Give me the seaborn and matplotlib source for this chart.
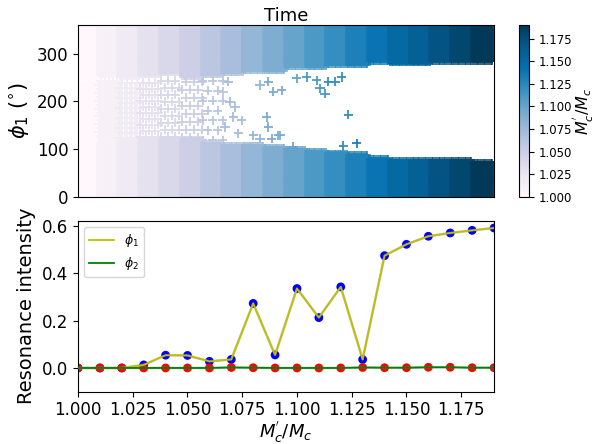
import numpy as np
import pandas as pd
import matplotlib
matplotlib.use('Agg')
from matplotlib import pyplot as plt
import seaborn as sns

# mass ratio M_c'/M_c for each run
ratio = [1.00, 1.01, 1.02, 1.03, 1.04, 1.05, 1.06, 1.07, 1.08, 1.09,
         1.10, 1.11, 1.12, 1.13, 1.14, 1.15, 1.16, 1.17, 1.18, 1.19]

# resonance intensity
phi1_res = [0.0, 0.0, 0.0, 0.013, 0.054, 0.053, 0.028, 0.036, 0.273, 0.055,
            0.336, 0.213, 0.343, 0.036, 0.475, 0.523, 0.557, 0.571, 0.582, 0.592]
phi2_res = [0.0, 0.0, 0.0, 0.0, 0.0, 0.0, 0.0, 0.002, 0.001, 0.0,
            0.0, 0.0, 0.0, 0.002, 0.001, 0.001, 0.003, 0.003, 0.001, 0.001]

# phi_1 libration: empty band between gap_low and gap_high (deg) for each run
gap_high = [245, 250, 248, 250, 255, 248, 250, 255, 258, 260,
            265, 265, 269, 272, 278, 276, 276, 279, 280, 280]
gap_low = [120, 118, 123, 126, 126, 124, 118, 112, 112, 108,
           105, 102, 96, 92, 84, 80, 80, 80, 80, 77]
# how sparse the points inside the gap are (0 = empty)
gap_sparse = [3, 4, 5, 6, 7, 8, 10, 0, 0, 0,
              0, 0, 0, 0, 0, 0, 0, 0, 0, 0]

# single points that land inside the gap (time in run units, phi in deg)
stray_t = [7.23, 6.99, 7.31, 7.55, 7.47, 7.87, 7.07, 7.71, 8.43, 8.75,
           9.31, 9.63, 9.15, 9.07, 9.39, 9.79, 8.75, 9.15, 10.51, 11.0,
           11.48, 11.63, 11.87, 12.03, 12.36, 12.68, 12.99, 12.75, 13.40, 10.35,
           9.71]
stray_phi = [241, 220, 199, 188, 167, 160, 146, 133, 129, 122,
             122, 129, 146, 167, 220, 223, 234, 241, 248, 251,
             244, 227, 216, 241, 241, 251, 172, 106, 112, 105,
             129]


def build_time_series():
    # solid part of each run
    t_all = []
    p_all = []
    r_all = []
    # scattered part inside the gap
    gt = []
    gp = []
    gr = []
    for i, r in enumerate(ratio):
        cols = i + np.arange(0, 1, 1 / 12.)
        rows = np.arange(0, 361, 4)
        keep = rows[(rows <= gap_low[i] - 4) | (rows >= gap_high[i] + 4)]
        tt, pp = np.meshgrid(cols, keep)
        t_all += list(tt.ravel())
        p_all += list(pp.ravel())
        r_all += [r] * tt.size
        if gap_sparse[i]:
            step_t = gap_sparse[i] / 20.8
            step_p = gap_sparse[i] * 2.09
            gap_rows = np.arange(gap_low[i], gap_high[i], step_p)
            for k, p in enumerate(gap_rows):
                off = 0.5 * step_t * (k % 2)
                for t in np.arange(i + off, i + 1, step_t):
                    gt.append(t)
                    gp.append(p)
                    gr.append(r)
    for t, p in zip(stray_t, stray_phi):
        gt.append(t)
        gp.append(p)
        gr.append(ratio[int(t)])
    solid = pd.DataFrame({'t': t_all, 'phi': p_all, 'ratio': r_all})
    loose = pd.DataFrame({'t': gt, 'phi': gp, 'ratio': gr})
    return solid, loose


def main():
    solid, loose = build_time_series()
    norm = plt.Normalize(1.0, 1.19)

    fig = plt.figure(figsize=(5.96, 4.44), dpi=100)
    ax1 = fig.add_axes([0.1309, 0.557, 0.698, 0.3867])
    ax2 = fig.add_axes([0.1309, 0.118, 0.698, 0.385])
    cax = fig.add_axes([0.870, 0.557, 0.0168, 0.3867])

    # top: phi_1 vs time, coloured by ratio
    sns.scatterplot(data=loose, x='t', y='phi', hue='ratio', palette='PuBu',
                    hue_norm=norm, marker='+', s=45, linewidth=1.3,
                    legend=False, ax=ax1)
    sns.scatterplot(data=solid, x='t', y='phi', hue='ratio', palette='PuBu',
                    hue_norm=norm, marker='+', s=22, linewidth=1.1,
                    legend=False, ax=ax1)
    ax1.set_xlim(0, len(ratio))
    ax1.set_ylim(0, 360)
    ax1.set_xticks([])
    ax1.set_yticks([0, 100, 200, 300])
    ax1.set_xlabel('')
    ax1.set_ylabel(r'$\phi_1$ ($^{\circ}$)', fontsize=15)
    ax1.set_title('Time', fontsize=13, pad=2)
    ax1.tick_params(labelsize=12)

    sm = plt.cm.ScalarMappable(cmap='PuBu', norm=norm)
    sm.set_array([])
    cb = fig.colorbar(sm, cax=cax, format='%.3f')
    cb.set_ticks([1.0, 1.025, 1.05, 1.075, 1.1, 1.125, 1.15, 1.175])
    cb.ax.tick_params(labelsize=8.5)
    cb.set_label(r"$M_c^{'}/M_c$", fontsize=11.5, labelpad=0)

    # bottom: resonance intensity
    sns.scatterplot(x=ratio, y=phi1_res, color='blue', s=40, edgecolor='none',
                    ax=ax2, zorder=2)
    sns.scatterplot(x=ratio, y=phi2_res, color='red', s=40, edgecolor='none',
                    ax=ax2, zorder=2)
    sns.lineplot(x=ratio, y=phi1_res, color='grey', lw=1.9, alpha=0.4,
                 ax=ax2, zorder=3)
    sns.lineplot(x=ratio, y=phi2_res, color='grey', lw=1.9, alpha=0.4,
                 ax=ax2, zorder=3)
    sns.lineplot(x=ratio, y=phi1_res, color='y', lw=1.3, label=r'$\phi_1$',
                 ax=ax2, zorder=4)
    sns.lineplot(x=ratio, y=phi2_res, color='g', lw=1.3, label=r'$\phi_2$',
                 ax=ax2, zorder=4)
    ax2.set_xlim(1.0, 1.19)
    ax2.set_ylim(-0.1, 0.623)
    ax2.set_xticks([1.0, 1.025, 1.05, 1.075, 1.1, 1.125, 1.15, 1.175])
    ax2.set_xticklabels(['1.000', '1.025', '1.050', '1.075', '1.100',
                         '1.125', '1.150', '1.175'])
    ax2.set_yticks([0.0, 0.2, 0.4, 0.6])
    ax2.tick_params(labelsize=12)
    ax2.set_xlabel(r"$M_c^{'}/M_c$", fontsize=13, labelpad=0)
    ax2.set_ylabel('Resonance intensity', fontsize=14)
    ax2.legend(loc='upper left', fontsize=9)

    plt.savefig('out.png', dpi=100)


if __name__ == '__main__':
    main()
